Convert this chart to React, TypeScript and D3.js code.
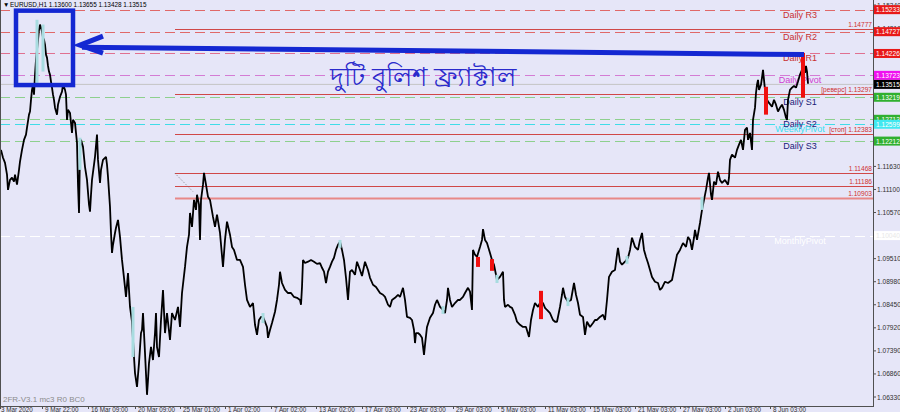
import React from 'react';
import * as d3 from 'd3';

const W = 900;
const H = 412;
const PLOT_R = 873;
const PLOT_B = 406;

// price axis ticks
const priceTicks = ['1.06330','1.06860','1.07390','1.07920','1.08450','1.08980','1.09510','1.10040','1.10570','1.11100','1.11630','1.12160','1.12690','1.13220','1.13750','1.14280','1.14810','1.15340'];

// time axis (slot = one screen column of two H1 bars)
const timeLabels = ['3 Mar 2020','9 Mar 22:00','16 Mar 09:00','20 Mar 09:00','25 Mar 01:00','1 Apr 02:00','7 Apr 02:00','13 Apr 02:00','17 Apr 03:00','23 Apr 03:00','29 Apr 03:00','5 May 03:00','11 May 03:00','15 May 03:00','21 May 03:00','27 May 03:00','2 Jun 03:00','8 Jun 03:00'];
const timeSlots = [0,42,88,135,180,225,271,316,362,407,453,498,545,590,635,680,725,770];

// EURUSD H1 price path [slot, price]
const priceSeries: [number, number][] = [
[1,1.1201],[3,1.1183],[5,1.1171],[7,1.1144],[8,1.1109],[10,1.1132],[12,1.1137],[14,1.1128],[15,1.1144],[17,1.1121],[19,1.1155],[20,1.1174],[22,1.1201],[24,1.1224],[26,1.1236],[27,1.1252],[29,1.1282],[30,1.1289],[31,1.1316],[32,1.1339],[33,1.1351],[34,1.1328],[35,1.1374],[36,1.1408],[37,1.1431],[38,1.1454],[39,1.1477],[40,1.1489],[41,1.1482],[42,1.1473],[43,1.1459],[44,1.1454],[45,1.1443],[46,1.1420],[47,1.1413],[48,1.1394],[49,1.1381],[50,1.1374],[51,1.1358],[52,1.1344],[53,1.1328],[54,1.1316],[55,1.1298],[57,1.1282],[58,1.1305],[60,1.1323],[62,1.1335],[63,1.1351],[65,1.1339],[66,1.1328],[67,1.1270],[68,1.1293],[70,1.1286],[72,1.1240],[73,1.1270],[75,1.1263],[77,1.1217],[78,1.1121],[79,1.1056],[80,1.1201],[81,1.1224],[83,1.1208],[85,1.1162],[87,1.1132],[89,1.1075],[90,1.1059],[91,1.1098],[92,1.1132],[94,1.1167],[95,1.1185],[97,1.1236],[98,1.1178],[100,1.1125],[101,1.1155],[103,1.1178],[106,1.1185],[107,1.1167],[108,1.1139],[110,1.1070],[111,1.1010],[112,1.0964],[113,1.0983],[115,1.1010],[116,1.1022],[118,1.1040],[120,1.1001],[122,1.0948],[124,1.0907],[126,1.0863],[128,1.0918],[130,1.0840],[132,1.0806],[133,1.0764],[134,1.0725],[135,1.0688],[137,1.0656],[139,1.0711],[141,1.0780],[142,1.0787],[143,1.0826],[145,1.0734],[147,1.0638],[148,1.0672],[149,1.0711],[151,1.0748],[153,1.0718],[155,1.0780],[156,1.0826],[157,1.0748],[159,1.0725],[161,1.0810],[163,1.0879],[165,1.0780],[167,1.0826],[170,1.0764],[172,1.0826],[175,1.0810],[178,1.0840],[180,1.0794],[182,1.0872],[185,1.0932],[187,1.0978],[189,1.1006],[190,1.1056],[192,1.1024],[194,1.1086],[196,1.1063],[197,1.1098],[199,1.1075],[200,1.0994],[201,1.1086],[203,1.1121],[204,1.1148],[206,1.1121],[208,1.1093],[210,1.1086],[213,1.1047],[215,1.1024],[217,1.1052],[220,1.1010],[223,1.0932],[225,1.0994],[227,1.1036],[230,1.1006],[232,1.0978],[234,1.0971],[237,1.0948],[240,1.0948],[243,1.0932],[245,1.0891],[247,1.0856],[250,1.0840],[253,1.0849],[255,1.0799],[257,1.0776],[259,1.0810],[261,1.0817],[263,1.0817],[265,1.0806],[267,1.0794],[268,1.0769],[270,1.0787],[272,1.0803],[275,1.0829],[277,1.0856],[279,1.0891],[280,1.0921],[282,1.0895],[285,1.0879],[288,1.0872],[291,1.0872],[294,1.0863],[297,1.0861],[300,1.0856],[301,1.0845],[302,1.0886],[303,1.0948],[305,1.0941],[308,1.0944],[311,1.0948],[314,1.0944],[317,1.0939],[320,1.0941],[322,1.0930],[324,1.0921],[326,1.0895],[328,1.0921],[330,1.0932],[332,1.0944],[334,1.0953],[336,1.0971],[338,1.0983],[340,1.0990],[342,1.0971],[344,1.0948],[346,1.0907],[348,1.0856],[350,1.0921],[352,1.0925],[355,1.0914],[357,1.0944],[360,1.0925],[362,1.0911],[365,1.0944],[368,1.0925],[370,1.0907],[373,1.0891],[376,1.0886],[378,1.0879],[380,1.0872],[383,1.0868],[385,1.0863],[388,1.0845],[390,1.0840],[392,1.0856],[395,1.0861],[398,1.0868],[400,1.0863],[403,1.0884],[405,1.0856],[407,1.0817],[410,1.0815],[412,1.0810],[414,1.0787],[415,1.0757],[416,1.0780],[418,1.0780],[420,1.0776],[422,1.0769],[424,1.0730],[425,1.0753],[427,1.0794],[430,1.0815],[433,1.0826],[435,1.0845],[437,1.0856],[440,1.0840],[443,1.0833],[445,1.0826],[447,1.0856],[448,1.0884],[450,1.0856],[452,1.0840],[455,1.0849],[458,1.0856],[460,1.0856],[463,1.0863],[465,1.0872],[468,1.0884],[470,1.0875],[472,1.0833],[473,1.0971],[475,1.0960],[477,1.0955],[480,1.0978],[482,1.0994],[483,1.1019],[485,1.0994],[487,1.0987],[490,1.0964],[492,1.0948],[494,1.0937],[496,1.0914],[497,1.0902],[500,1.0909],[503,1.0921],[504,1.0856],[505,1.0840],[508,1.0845],[510,1.0840],[512,1.0838],[515,1.0822],[517,1.0806],[520,1.0799],[523,1.0794],[526,1.0794],[529,1.0771],[531,1.0810],[533,1.0833],[535,1.0849],[538,1.0840],[540,1.0849],[543,1.0849],[545,1.0838],[547,1.0833],[550,1.0826],[553,1.0810],[555,1.0806],[557,1.0806],[560,1.0840],[562,1.0868],[563,1.0884],[565,1.0863],[568,1.0852],[571,1.0856],[574,1.0895],[576,1.0868],[578,1.0849],[580,1.0822],[583,1.0817],[585,1.0776],[587,1.0806],[590,1.0794],[593,1.0803],[595,1.0810],[597,1.0810],[600,1.0817],[603,1.0822],[605,1.0810],[607,1.0856],[609,1.0909],[612,1.0921],[615,1.0925],[617,1.0960],[618,1.0976],[620,1.0944],[622,1.0937],[625,1.0944],[628,1.0953],[630,1.0971],[632,1.0999],[635,1.0978],[638,1.0971],[640,1.0994],[642,1.1010],[644,1.0971],[646,1.0955],[648,1.0941],[650,1.0925],[652,1.0909],[655,1.0898],[658,1.0895],[660,1.0879],[662,1.0884],[665,1.0898],[668,1.0895],[672,1.0902],[675,1.0937],[677,1.0960],[680,1.0971],[683,1.0987],[686,1.0978],[688,1.1001],[690,1.0994],[692,1.0971],[694,1.0999],[695,1.1017],[697,1.0994],[700,1.1033],[702,1.1063],[704,1.1086],[706,1.1109],[708,1.1137],[709,1.1148],[711,1.1098],[712,1.1086],[714,1.1128],[716,1.1121],[718,1.1151],[720,1.1132],[722,1.1125],[725,1.1132],[728,1.1121],[729,1.1137],[730,1.1178],[732,1.1190],[735,1.1183],[737,1.1201],[739,1.1213],[741,1.1224],[743,1.1201],[745,1.1247],[747,1.1252],[748,1.1224],[750,1.1240],[752,1.1201],[753,1.1270],[755,1.1298],[756,1.1332],[757,1.1351],[758,1.1362],[759,1.1339],[761,1.1351],[762,1.1367],[763,1.1385],[764,1.1362],[765,1.1339],[767,1.1316],[769,1.1309],[772,1.1300],[774,1.1316],[776,1.1305],[778,1.1289],[780,1.1298],[782,1.1305],[784,1.1293],[786,1.1275],[787,1.1270],[788,1.1316],[790,1.1339],[792,1.1344],[794,1.1348],[796,1.1344],[798,1.1358],[800,1.1374],[802,1.1385],[803,1.1404],[804,1.1390],[805,1.1378],[806,1.1394],[807,1.1381],[808,1.1353]
];

// fractal bars [slot, high, low]
const bullFractalBars: [number, number, number][] = [[37,1.1500,1.1355],[43,1.1489,1.1381],[80,1.1229,1.1155],[133,1.0840,1.0725],[263,1.0826,1.0803],[340,1.0994,1.0976],[443,1.0842,1.0824],[497,1.0914,1.0895],[568,1.0861,1.0842],[627,1.0957,1.0939],[702,1.1093,1.1063]];
const redSignalBars: [number, number, number][] = [[766,1.1346,1.1282],[803,1.1424,1.1321],[478,1.0955,1.0932],[492,1.0950,1.0923],[541,1.0877,1.0812]];

// pivot levels
const pivotNames = ['Daily R3','Daily R2','Daily R1','Daily Pivot','Daily S1','Daily S2','WeeklyPivot','Daily S3','MonthlyPivot'];
const pivotValues = [1.15233,1.14727,1.14226,1.13723,1.13219,1.12713,1.12599,1.12212,1.10040];

// fractal / order levels
const orderLabels = ['1.14777','[реверс] 1.13297','[стоп] 1.12383','1.11468','1.11186','1.10903'];
const orderValues = [1.14777,1.13297,1.12383,1.11468,1.11186,1.10903];
const orderStartSlot = 175;

// right axis price tags
const tagValues = [1.15233,1.14727,1.14226,1.13723,1.13515,1.13219,1.12713,1.12599,1.12212,1.10040];
const tagTexts = ['1.15233','1.14727','1.14226','1.13723','1.13515','1.13219','1.12713','1.12599','1.12212','1.10040'];

const currentPrice = 1.13515;
const titleText = 'EURUSD,H1 1.13600 1.13655 1.13428 1.13515';
const annotationText = 'দুটি বুলিশ ফ্র্যাক্টাল';

// annotation anchors [slot, price]
const boxCorners: [number, number][] = [[16,1.1521],[73,1.1350]];
const arrowFrom: [number, number] = [804,1.1420];
const arrowTo: [number, number] = [80,1.1444];
const dottedFrom: [number, number] = [175,1.1147];
const dottedTo: [number, number] = [193,1.1105];

const pivotStyle: Record<string, { line: string; text: string }> = {
  'Daily R3': { line: '#E06868', text: '#C83030' },
  'Daily R2': { line: '#E06868', text: '#C83030' },
  'Daily R1': { line: '#E07090', text: '#C83030' },
  'Daily Pivot': { line: '#D47CD4', text: '#D040D0' },
  'Daily S1': { line: '#8ED08E', text: '#1A1A78' },
  'Daily S2': { line: '#8ED08E', text: '#1A1A78' },
  'WeeklyPivot': { line: '#40DCE8', text: '#40E0F0' },
  'Daily S3': { line: '#8ED08E', text: '#1A1A78' },
  'MonthlyPivot': { line: '#FFFFFF', text: '#FFFFFF' },
};
const tagColors = ['#E81818','#E81818','#E81818','#F010F0','#000000','#30B030','#30B030','#40E8F0','#30B030','#FFFFFF'];
const tagTextColors = ['#FFFFFF','#FFFFFF','#FFFFFF','#FFFFFF','#FFFFFF','#FFFFFF','#FFFFFF','#FFFFFF','#FFFFFF','#E8E8E8'];

const FONT = '"Liberation Sans", Arial, sans-serif';

export default function App() {
  const x = d3.scaleLinear().domain([0, PLOT_R]).range([0, PLOT_R]);
  const y = d3.scaleLinear().domain([1.0633, 1.1534]).range([397, 5]);
  const line = d3.line<[number, number]>().x(d => x(d[0])).y(d => y(d[1]));
  const BLUE = '#1428D2';

  const ax = x(arrowTo[0]);
  const ay = y(arrowTo[1]);

  // tick labels fully hidden under a price tag are not drawn
  const visibleTicks = priceTicks.filter(t => !tagValues.some(v => Math.abs(y(v) - y(+t)) < 3));

  return (
    <div style={{ position: 'absolute', left: 0, top: 0 }}>
      <svg width={W} height={H} style={{ display: 'block', background: '#E6E6F8' }} fontFamily={FONT}>
        <rect x={0} y={0} width={W} height={H} fill="#E6E6F8" />

        {/* current price line */}
        <line x1={0} x2={PLOT_R} y1={y(currentPrice)} y2={y(currentPrice)} stroke="#C4C4C4" strokeWidth={1} />

        {/* pivot levels */}
        {pivotNames.map((n, i) => (
          <line key={'pv' + i} x1={0} x2={PLOT_R} y1={Math.round(y(pivotValues[i])) + 0.5} y2={Math.round(y(pivotValues[i])) + 0.5}
            stroke={pivotStyle[n].line} strokeWidth={1} strokeDasharray="10 5" />
        ))}

        {/* order levels */}
        {orderValues.map((v, i) => (
          <g key={'ov' + i}>
            <line x1={x(orderStartSlot)} x2={PLOT_R} y1={Math.round(y(v)) + 0.5} y2={Math.round(y(v)) + 0.5}
              stroke={i === orderValues.length - 1 ? '#E88888' : '#D04848'} strokeWidth={i === orderValues.length - 1 ? 2 : 1} />
            <text x={PLOT_R - 1} y={y(v) - 2} textAnchor="end" fontSize={6.6} fill="#D03030">{orderLabels[i]}</text>
          </g>
        ))}

        <line x1={x(dottedFrom[0])} y1={y(dottedFrom[1])} x2={x(dottedTo[0])} y2={y(dottedTo[1])} stroke="#707070" strokeWidth={0.8} strokeDasharray="1 1.5" />

        {/* pivot labels */}
        {pivotNames.map((n, i) => (
          <text key={'pl' + i} x={800} y={y(pivotValues[i]) + 8} textAnchor="middle" fontSize={9} fill={pivotStyle[n].text}>{n}</text>
        ))}

        {/* price path */}
        <path d={line(priceSeries) || ''} fill="none" stroke="#000" strokeWidth={1.8} strokeLinejoin="bevel" />

        {bullFractalBars.map((b, i) => (
          <line key={'bf' + i} x1={x(b[0])} x2={x(b[0])} y1={y(b[1])} y2={y(b[2])} stroke="#A8DCE0" strokeWidth={3} />
        ))}
        {redSignalBars.map((b, i) => (
          <line key={'rs' + i} x1={x(b[0])} x2={x(b[0])} y1={y(b[1])} y2={y(b[2])} stroke="#F01010" strokeWidth={4} />
        ))}

        {/* annotations */}
        <rect x={x(boxCorners[0][0])} y={y(boxCorners[0][1])} width={x(boxCorners[1][0]) - x(boxCorners[0][0])}
          height={y(boxCorners[1][1]) - y(boxCorners[0][1])} fill="none" stroke={BLUE} strokeWidth={4.5} />
        <line x1={x(arrowFrom[0])} y1={y(arrowFrom[1])} x2={ax + 2} y2={ay + 3} stroke={BLUE} strokeWidth={5} />
        <polyline points={`${ax + 23},${ay - 8} ${ax},${ay + 1} ${ax + 23},${ay + 9}`} fill="none" stroke={BLUE} strokeWidth={5} strokeLinejoin="miter" />
        <text x={423} y={86} textAnchor="middle" fontSize={26} fill="#2A2ACC">{annotationText}</text>

        {/* frame */}
        <line x1={PLOT_R + 0.5} x2={PLOT_R + 0.5} y1={0} y2={PLOT_B} stroke="#505050" />
        <line x1={0} x2={PLOT_R + 1} y1={PLOT_B + 0.5} y2={PLOT_B + 0.5} stroke="#505050" />
        <line x1={0.5} x2={0.5} y1={0} y2={PLOT_B} stroke="#505050" />

        {/* right axis ticks */}
        {priceTicks.map((t, i) => (
          <line key={'ptm' + i} x1={PLOT_R} x2={PLOT_R + 3} y1={y(+t)} y2={y(+t)} stroke="#505050" />
        ))}
        {visibleTicks.map((t, i) => (
          <text key={'pt' + i} x={PLOT_R + 4} y={y(+t) + 2.5} fontSize={6.6} fill="#303030">{t}</text>
        ))}
        {tagValues.map((v, i) => (
          <g key={'tg' + i}>
            <rect x={PLOT_R + 1} y={y(v) - 4.5} width={W - PLOT_R - 1} height={9} fill={tagColors[i]} />
            <text x={PLOT_R + 3} y={y(v) + 2.5} fontSize={6.6} fill={tagTextColors[i]}>{tagTexts[i]}</text>
          </g>
        ))}

        {/* time axis */}
        {timeLabels.map((t, i) => (
          <g key={'tl' + i}>
            <line x1={x(timeSlots[i]) + 0.5} x2={x(timeSlots[i]) + 0.5} y1={PLOT_B} y2={PLOT_B + 3} stroke="#505050" />
            <text x={x(timeSlots[i]) + (i === 0 ? 1 : 3)} y={PLOT_B + 6.3} fontSize={6.3} fill="#303030">{t}</text>
          </g>
        ))}

        <text x={3} y={7} fontSize={6.4} fill="#000">{'\u25BC'}</text>
        <text x={10} y={7} fontSize={6.4} fill="#000">{titleText}</text>
        <text x={3} y={402} fontSize={8} fill="#8C8C8C">2FR-V3.1 mc3 R0 BC0</text>
      </svg>
    </div>
  );
}
